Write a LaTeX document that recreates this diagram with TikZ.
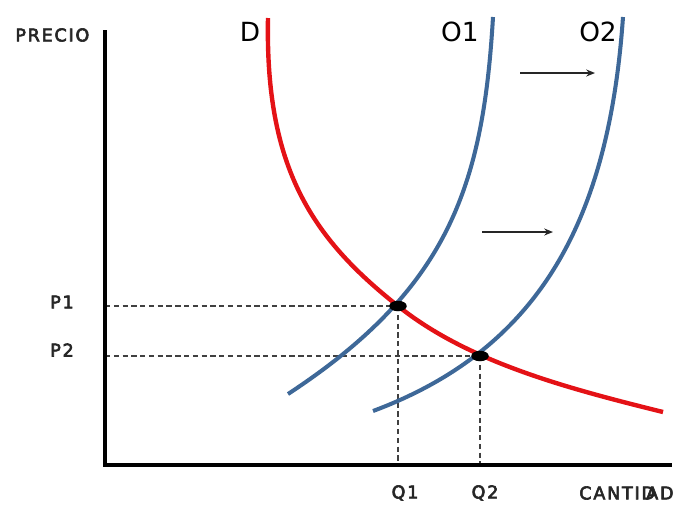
\documentclass[tikz,border=0pt]{standalone}
\usepackage{fontspec}
\setmainfont{DejaVu Sans}
\newfontfamily\axisfont[LetterSpace=10, FakeBold=3.5]{DejaVu Sans}
\usepackage{tikz}
\usetikzlibrary{arrows.meta, shapes.geometric, positioning, calc}
\definecolor{demred}{RGB}{228,18,22}
\definecolor{ofblue}{RGB}{62,104,152}

\begin{document}
\begin{tikzpicture}[x=0.02cm, y=-0.02cm,
		axis/.style={line width=1.9pt, black},
		guide/.style={densely dashed, line width=0.6pt, black!75},
		demanda/.style={line width=2.5pt, demred},
		oferta/.style={line width=2.3pt, ofblue},
		eq/.style={ellipse, fill=black, inner sep=0pt, minimum width=0.35cm, minimum height=0.21cm},
		lab/.style={font=\axisfont\fontsize{10}{11}\selectfont, inner sep=0pt, text=black!85},
		big/.style={font=\fontsize{15}{16}\selectfont, inner sep=0pt},
		arr/.style={-{Stealth[length=5pt, width=4pt]}, line width=0.9pt, black!85}]
	\useasboundingbox (0,0) rectangle (690,508);
	\coordinate (top) at (105,30);
	\coordinate (o) at (105,465);
	\coordinate (right) at (672,465);
	\coordinate (p1) at (105,306);
	\coordinate (p2) at (105,356);
	\coordinate (q1) at (398,465);
	\coordinate (q2) at (480,465);
	\draw[guide] (p1) -- (398,306);
	\draw[guide] (p2) -- (480,356);
	\draw[guide] (398,306) -- (q1);
	\draw[guide] (480,356) -- (q2);
	\draw[axis] (top) -- (o) -- (right);
	\draw[oferta] (288,394) .. controls (448,289) and (483,187) .. (493,17);
	\draw[oferta] (373,411) .. controls (542,348) and (609,217) .. (623,17);
	\draw[demanda] (268,18) .. controls (265,168) and (312,238) .. (398,306)
		.. controls (468,362) and (566,388) .. (663,412);
	\node[eq] (e1) at (398,306) {};
	\node[eq] (e2) at (480,356) {};
	\node[lab, anchor=west] (precio) at (15,35) {PRECIO};
	\node[lab] (lp1) at (62,302) {P1};
	\node[lab] (lp2) at (62,350) {P2};
	\node[lab] (lq1) at (405,493) {Q1};
	\node[lab] (lq2) at (485,493) {Q2};
	\node[lab, anchor=west] (cant) at (579,493) {CANTID\kern-0.5em AD};
	\node[big] (ld) at (250,32) {D};
	\node[big] (lo1) at (460,32) {O1};
	\node[big] (lo2) at (598,32) {O2};
	\coordinate (a1s) at (520,73);
	\coordinate (a1e) at (595,73);
	\coordinate (a2s) at (482,232);
	\coordinate (a2e) at (553,232);
	\draw[arr] (a1s) -- (a1e);
	\draw[arr] (a2s) -- (a2e);
\end{tikzpicture}
\end{document}
